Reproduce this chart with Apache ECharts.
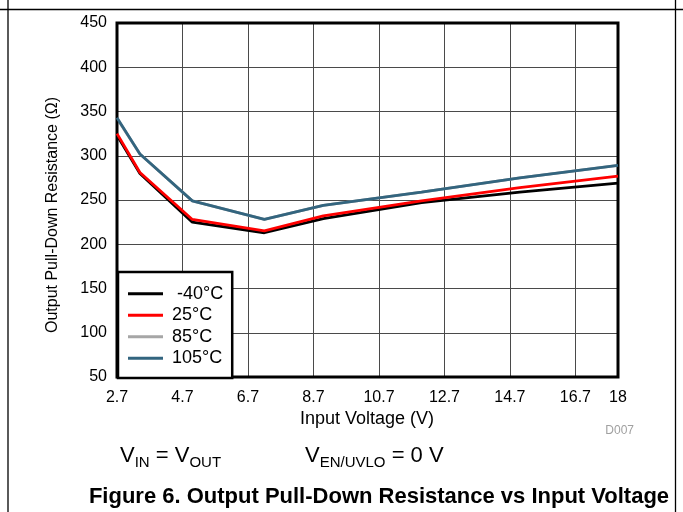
<!DOCTYPE html>
<html><head><meta charset="utf-8">
<script src="https://cdn.jsdelivr.net/npm/echarts@6/dist/echarts.min.js"></script>
<style>html,body{margin:0;padding:0;background:#fff}#c{width:683px;height:512px}</style>
</head><body><div id="c"></div>
<script>
// Input voltage (V) sample points
const inputVoltage = [2.7, 3.4, 5.0, 7.2, 9.0, 12.0, 15.0, 18.0];
// Output pull-down resistance (Ohm) per temperature
const resM40 = [323, 280, 225, 213, 229, 247, 259, 269];
const res25  = [325, 281, 228, 215, 232, 249, 264, 277];
const res85  = [342, 302, 249, 228, 244, 259, 275, 289];
const res105 = [343, 302, 249, 228, 244, 259, 275, 289];
const seriesNames = ['-40°C', '25°C', '85°C', '105°C'];
const xTickLabels = ['2.7', '4.7', '6.7', '8.7', '10.7', '12.7', '14.7', '16.7', '18'];
const X0 = 2.7;

const FONT = 'Liberation Sans, Arial, sans-serif';
const pts = arr => arr.map((r, i) => [+(inputVoltage[i] - X0).toFixed(3), r]);

const chart = echarts.init(document.getElementById('c'), null, {renderer: 'canvas'});
const mk = (name, arr, color, z) => ({
  name, type: 'line', data: pts(arr), symbol: 'none', z,
  lineStyle: {color, width: 2.8}, itemStyle: {color}, silent: true, animation: false
});
chart.setOption({
  animation: false,
  backgroundColor: '#fff',
  grid: {left: 117, right: 65, top: 23, bottom: 135, show: true, borderColor: '#000', borderWidth: 3, backgroundColor: 'transparent', z: 3},
  xAxis: {
    type: 'value', min: 0, max: 15.3, interval: 2,
    axisLine: {show: false}, axisTick: {show: false},
    splitLine: {show: true, lineStyle: {color: '#4a4a4a', width: 1}},
    axisLabel: {
      color: '#000', fontSize: 16, fontFamily: FONT, margin: 13, showMaxLabel: true,
      formatter: v => v > 14.5 ? xTickLabels[xTickLabels.length - 1] : xTickLabels[Math.round(v / 2)]
    }
  },
  yAxis: {
    type: 'value', min: 50, max: 450, interval: 50,
    axisLine: {show: false}, axisTick: {show: false},
    splitLine: {show: true, lineStyle: {color: '#4a4a4a', width: 1}},
    axisLabel: {color: '#000', fontSize: 16, fontFamily: FONT, margin: 10}
  },
  legend: {
    data: seriesNames, orient: 'vertical', left: 118, top: 272,
    icon: 'rect',
    backgroundColor: '#fff', borderColor: '#000', borderWidth: 2.5,
    padding: [11, 9, 9, 10], itemWidth: 35, itemHeight: 3, itemGap: 0,
    formatter: n => n === '-40°C' ? ' ' + n : n,
    textStyle: {color: '#000', fontSize: 18, lineHeight: 21.5, fontFamily: FONT, padding: [0, 0, 0, 4]},
    selectedMode: false, z: 10
  },
  series: [
    mk(seriesNames[2], res85, '#a6a6a6', 2),
    mk(seriesNames[0], resM40, '#000000', 3),
    mk(seriesNames[1], res25, '#ff0000', 4),
    mk(seriesNames[3], res105, '#33657f', 5)
  ],
  graphic: [
    {type: 'line', shape: {x1: 0, y1: 9.5, x2: 683, y2: 9.5}, style: {stroke: '#000', lineWidth: 1.3}},
    {type: 'line', shape: {x1: 8, y1: 0, x2: 8, y2: 512}, style: {stroke: '#000', lineWidth: 1.3}},
    {type: 'line', shape: {x1: 675.5, y1: 0, x2: 675.5, y2: 512}, style: {stroke: '#000', lineWidth: 1.3}},
    {type: 'text', x: 53, y: 215, rotation: Math.PI / 2,
      style: {text: 'Output Pull-Down Resistance (Ω)', fill: '#000', font: '16px ' + FONT, align: 'center', verticalAlign: 'middle'}},
    {type: 'text', x: 367, y: 419,
      style: {text: 'Input Voltage (V)', fill: '#000', font: '18px ' + FONT, align: 'center', verticalAlign: 'middle'}},
    {type: 'text', x: 634, y: 431,
      style: {text: 'D007', fill: '#a0a0a0', font: '12px ' + FONT, align: 'right', verticalAlign: 'middle'}},
    {type: 'text', x: 120, y: 456,
      style: {text: '{v|V}{s|IN}{v| = V}{s|OUT}', verticalAlign: 'middle', align: 'left',
        rich: {v: {fontSize: 22, fontFamily: FONT, color: '#000'}, s: {fontSize: 15, fontFamily: FONT, color: '#000', padding: [13, 0, 0, 0]}}}},
    {type: 'text', x: 305, y: 456,
      style: {text: '{v|V}{s|EN/UVLO}{v| = 0 V}', verticalAlign: 'middle', align: 'left',
        rich: {v: {fontSize: 22, fontFamily: FONT, color: '#000'}, s: {fontSize: 15, fontFamily: FONT, color: '#000', padding: [13, 0, 0, 0]}}}},
    {type: 'text', x: 379, y: 497,
      style: {text: 'Figure 6. Output Pull-Down Resistance vs Input Voltage', fill: '#000', font: 'bold 22px ' + FONT, align: 'center', verticalAlign: 'middle'}}
  ]
});
</script></body></html>
